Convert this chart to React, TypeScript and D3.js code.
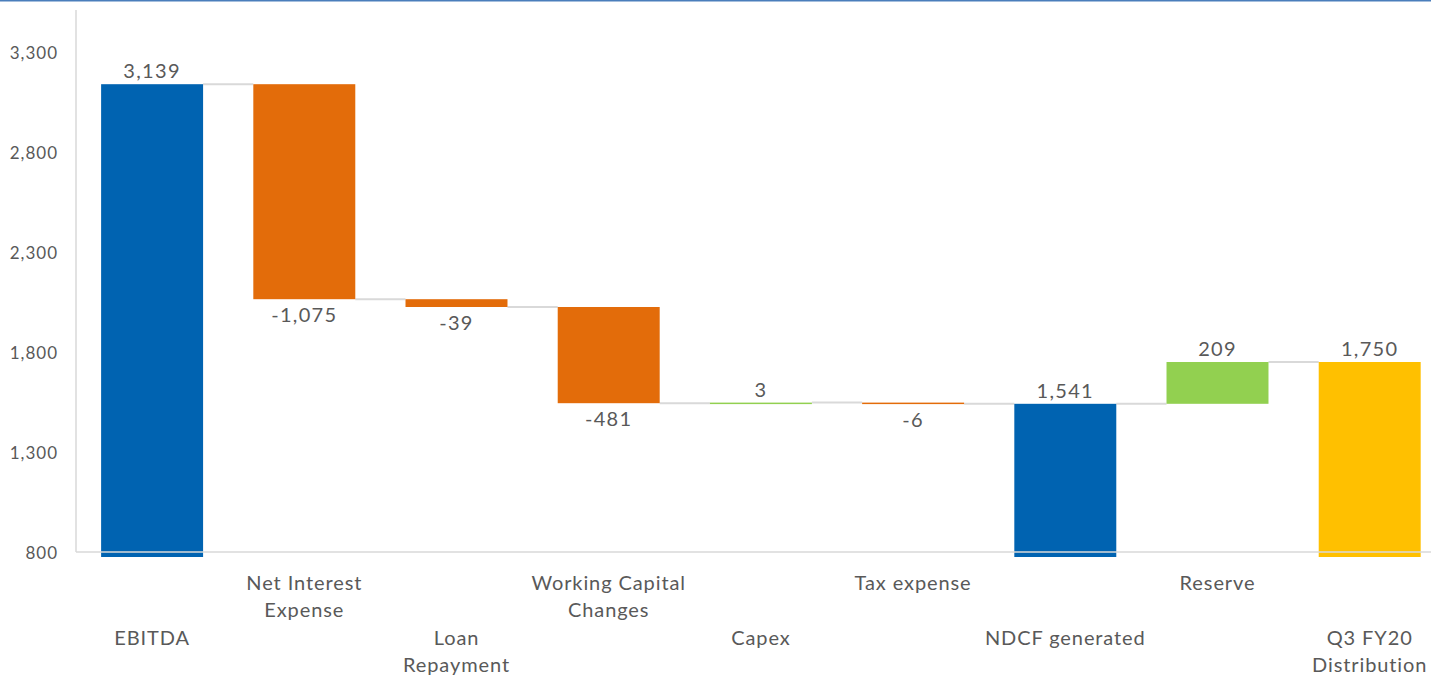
import React from "react";
import * as d3 from "d3";

const categories: string[][] = [
  ["EBITDA"],
  ["Net Interest", "Expense"],
  ["Loan", "Repayment"],
  ["Working Capital", "Changes"],
  ["Capex"],
  ["Tax expense"],
  ["NDCF generated"],
  ["Reserve"],
  ["Q3 FY20", "Distribution"],
];
const values: number[] = [3139, -1075, -39, -481, 3, -6, 1541, 209, 1750];
const kinds: string[] = ["total", "delta", "delta", "delta", "delta", "delta", "total", "delta", "final"];
const labels: string[] = ["3,139", "-1,075", "-39", "-481", "3", "-6", "1,541", "209", "1,750"];
const yTicks: number[] = [800, 1300, 1800, 2300, 2800, 3300];

const W = 1431;
const H = 675;
const left = 76;
const bottom = 552;
const top = 10;
const FONT = "Lato, 'Open Sans', sans-serif";
const GRAY = "#595959";

export default function App() {
  const x = d3
    .scaleBand<number>()
    .domain(d3.range(values.length))
    .range([left, left + 9 * 152.2])
    .paddingInner(0.33)
    .paddingOuter(0.165);
  const y = d3.scaleLinear().domain([800, 3510]).range([bottom, top]);

  let run = 0;
  const bars = values.map((v, i) => {
    const k = kinds[i];
    let start: number, end: number;
    if (k === "delta") {
      start = run;
      end = run + v;
      run = end;
    } else {
      start = 775;
      end = v;
      run = v;
    }
    let color: string;
    if (k === "total") color = "#0063B1";
    else if (k === "final") color = "#FFC000";
    else color = v >= 0 ? "#92D050" : "#E36C0A";
    return { i, v, k, start, end, level: run, color };
  });

  const yBase = (v: number) => (v === 775 ? bottom + 5 : y(v));

  return (
    <svg
      width={W}
      height={H}
      style={{ position: "absolute", left: 0, top: 0, background: "#fff" }}
      fontFamily={FONT}
    >
      <rect x={0} y={0} width={W} height={1.5} fill="#4A7EBB" />
      <line x1={left} x2={left} y1={top} y2={bottom} stroke="#D9D9D9" strokeWidth={1.5} />
      {yTicks.map((t) => (
        <text
          key={t}
          x={58}
          y={y(t)}
          textAnchor="end"
          dominantBaseline="central"
          fontSize={17}
          letterSpacing={1}
          fill={GRAY}
        >
          {d3.format(",")(t)}
        </text>
      ))}
      {bars.slice(0, -1).map((b) => {
        const x1 = (x(b.i) as number) + x.bandwidth();
        const x2 = x(b.i + 1) as number;
        return (
          <line
            key={"c" + b.i}
            x1={x1}
            x2={x2}
            y1={y(b.level)}
            y2={y(b.level)}
            stroke="#D9D9D9"
            strokeWidth={2}
          />
        );
      })}
      {bars.map((b) => {
        const y0 = yBase(b.start);
        const y1 = yBase(b.end);
        const yTop = Math.min(y0, y1);
        const h = Math.max(Math.abs(y1 - y0), 1.5);
        return (
          <rect
            key={"b" + b.i}
            x={x(b.i)}
            y={yTop}
            width={x.bandwidth()}
            height={h}
            fill={b.color}
          />
        );
      })}
      <line x1={left} x2={W} y1={bottom} y2={bottom} stroke="#D9D9D9" strokeWidth={1.5} />
      {bars.map((b) => {
        const cx = (x(b.i) as number) + x.bandwidth() / 2;
        const below = b.k === "delta" && b.v < 0;
        const yy = below ? y(b.end) + 23 : y(Math.max(b.start, b.end)) - 6;
        return (
          <text
            key={"l" + b.i}
            x={cx}
            y={yy}
            textAnchor="middle"
            fontSize={20}
            letterSpacing={1.3}
            fill={GRAY}
          >
            {labels[b.i]}
          </text>
        );
      })}
      {categories.map((lines, i) => {
        const cx = (x(i) as number) + x.bandwidth() / 2;
        const baseY = i % 2 === 1 ? 590 : 645;
        return (
          <text
            key={"cat" + i}
            x={cx}
            textAnchor="middle"
            fontSize={20}
            letterSpacing={0.9}
            fill={GRAY}
          >
            {lines.map((ln, j) => (
              <tspan key={j} x={cx} y={baseY + j * 27}>
                {ln}
              </tspan>
            ))}
          </text>
        );
      })}
    </svg>
  );
}
